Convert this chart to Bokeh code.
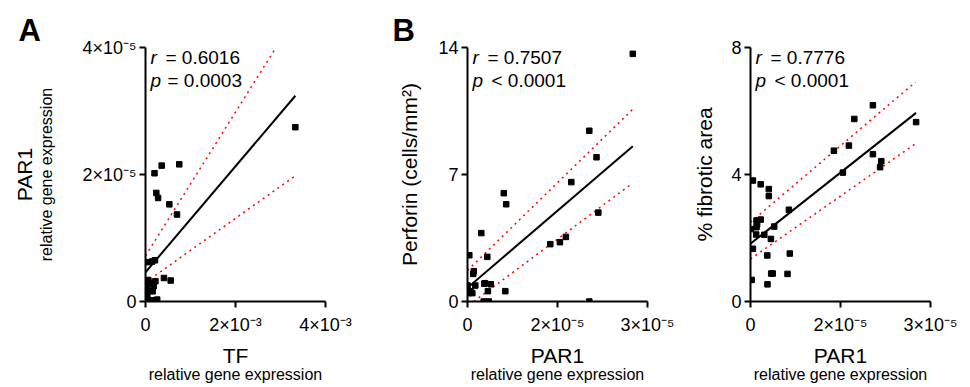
from bokeh.plotting import figure
from bokeh.layouts import row
from bokeh.models import Range1d, FixedTicker, Label, LinearAxis
from bokeh.embed import file_html
from bokeh.resources import INLINE

FONT = "Liberation Sans"

# ---------------- Panel A: TF vs PAR1 ----------------
a_tf = [3.33e-3, 0.20e-3, 0.36e-3, 0.75e-3, 0.24e-3, 0.28e-3, 0.53e-3, 0.70e-3,
        0.05e-3, 0.15e-3, 0.21e-3, 0.41e-3, 0.56e-3, 0.05e-3, 0.22e-3, 0.18e-3,
        0.16e-3, 0.03e-3, 0.03e-3, 0.04e-3, 0.02e-3, 0.10e-3, 0.22e-3, 0.08e-3,
        0.12e-3, 0.01e-3, 0.06e-3, 0.26e-3]
a_par1 = [2.745e-5, 2.02e-5, 2.14e-5, 2.16e-5, 1.71e-5, 1.63e-5, 1.53e-5, 1.37e-5,
          0.62e-5, 0.63e-5, 0.65e-5, 0.37e-5, 0.33e-5, 0.34e-5, 0.32e-5, 0.24e-5,
          0.16e-5, 0.22e-5, 0.15e-5, 0.10e-5, 0.05e-5, 0.02e-5, 0.02e-5, 0.30e-5,
          0.28e-5, 0.0, 0.02e-5, 0.03e-5]
a_fit_x = [0.0, 3.33e-3]
a_fit_y = [0.46e-5, 3.24e-5]
a_up_x = [0.0, 2.9e-3]
a_up_y = [0.72e-5, 4.0e-5]
a_lo_x = [0.0, 3.33e-3]
a_lo_y = [0.30e-5, 1.98e-5]
a_r, a_p = "= 0.6016", "= 0.0003"

# ---------------- Panel B: PAR1 vs Perforin ----------------
b_par1 = [2.755e-5, 2.03e-5, 2.15e-5, 1.73e-5, 2.18e-5, 1.64e-5, 1.54e-5, 1.38e-5,
          0.605e-5, 0.645e-5, 0.23e-5, 0.33e-5, 0.03e-5, 0.105e-5, 0.095e-5, 0.29e-5,
          0.39e-5, 0.28e-5, 0.63e-5, 0.34e-5, 0.27e-5, 0.355e-5, 2.03e-5, 0.0,
          0.13e-5, 0.05e-5, 0.02e-5, 0.08e-5]
b_perforin = [13.65, 9.41, 7.95, 6.58, 4.90, 3.56, 3.27, 3.16,
              5.97, 5.36, 3.77, 2.46, 2.55, 1.67, 1.52, 1.01,
              0.95, 0.98, 0.57, 0.57, 0.0, 0.0, 0.0, 0.88,
              0.88, 0.57, 0.46, 0.46]
b_fit_x = [0.0, 2.755e-5]
b_fit_y = [0.755, 8.56]
b_up_x = [0.0, 2.75e-5]
b_up_y = [1.71, 10.58]
b_lo_x = [0.105e-5, 2.75e-5]
b_lo_y = [0.0, 6.52]
b_r, b_p = "= 0.7507", "< 0.0001"

# ---------------- Panel C: PAR1 vs % fibrotic area ----------------
c_par1 = [2.76e-5, 2.04e-5, 1.73e-5, 1.64e-5, 1.39e-5, 2.04e-5, 2.18e-5, 2.16e-5,
          1.54e-5, 0.04e-5, 0.17e-5, 0.305e-5, 0.305e-5, 0.64e-5, 0.10e-5, 0.17e-5,
          0.11e-5, 0.10e-5, 0.005e-5, 0.395e-5, 0.095e-5, 0.23e-5, 0.34e-5, 0.04e-5,
          0.28e-5, 0.655e-5, 0.02e-5, 0.345e-5, 0.37e-5, 0.617e-5, 0.283e-5]
c_fibrotic = [5.65, 6.18, 5.75, 4.91, 4.75, 4.64, 4.42, 4.23,
              4.06, 3.81, 3.69, 3.54, 3.32, 2.89, 2.55, 2.58,
              2.43, 2.34, 2.28, 2.36, 2.11, 2.10, 1.97, 1.66,
              1.45, 1.51, 0.68, 0.88, 0.88, 0.87, 0.54]
c_fit_x = [0.0, 2.76e-5]
c_fit_y = [1.82, 5.94]
c_up_x = [0.0, 2.75e-5]
c_up_y = [2.50, 6.91]
c_lo_x = [0.0, 2.75e-5]
c_lo_y = [1.34, 4.97]
c_r, c_p = "= 0.7776", "< 0.0001"

# ticks
a_xticks = [0.0, 2e-3, 4e-3]
a_xlabels = ["0", "2×10⁻³", "4×10⁻³"]
a_yticks = [0.0, 2e-5, 4e-5]
a_ylabels = ["0", "2×10⁻⁵", "4×10⁻⁵"]
par_xticks = [0.0, 1.5e-5, 3e-5]
par_xlabels = ["0", "2×10⁻⁵", "3×10⁻⁵"]
b_yticks = [0.0, 7.0, 14.0]
b_ylabels = ["0", "7", "14"]
c_yticks = [0.0, 4.0, 8.0]
c_ylabels = ["0", "4", "8"]

H = 387
TOP = 47
FH = 254
FW = 180


def lab(p, text, sx, sy, size, style="normal", align="left"):
    p.add_layout(Label(x=sx, y=sy, x_units="screen", y_units="screen", text=text,
                       text_font=FONT, text_font_size=size, text_font_style=style,
                       text_align=align, text_baseline="alphabetic",
                       text_color="black"))


def style_label(ax, size, standoff):
    ax.axis_label_text_font = FONT
    ax.axis_label_text_font_size = size
    ax.axis_label_text_font_style = "normal"
    ax.axis_label_text_color = "black"
    ax.axis_label_standoff = standoff


def extra_axis(p, side, text, size, standoff):
    ax = LinearAxis(ticker=FixedTicker(ticks=[]), axis_label=text)
    ax.axis_line_color = None
    ax.major_tick_line_color = None
    ax.minor_tick_line_color = None
    ax.major_tick_out = 0
    ax.major_tick_in = 0
    ax.minor_tick_out = 0
    ax.minor_tick_in = 0
    ax.major_label_standoff = 0
    ax.major_label_text_font_size = "0px"
    style_label(ax, size, standoff)
    p.add_layout(ax, side)


def panel(width, left, xr, yr, xticks, xlabels, yticks, ylabels, xtitle, ytitle, ystand,
          xs, ys, fx, fy, ux, uy, lx, ly, rtxt, ptxt, letter=None):
    p = figure(width=width, height=H, x_range=Range1d(*xr), y_range=Range1d(*yr),
               output_backend="svg", toolbar_location=None,
               min_border_left=left, min_border_right=width - left - FW,
               min_border_top=TOP, min_border_bottom=H - TOP - FH)
    p.outline_line_color = None
    p.grid.visible = False
    for ax, t, l in ((p.xaxis[0], xticks, xlabels), (p.yaxis[0], yticks, ylabels)):
        ax.ticker = FixedTicker(ticks=t)
        ax.major_label_overrides = dict(zip(t, l))
        ax.minor_tick_line_color = None
        ax.major_tick_in = 0
        ax.major_tick_out = 6
        ax.axis_line_width = 2
        ax.major_tick_line_width = 2
        ax.axis_line_color = "black"
        ax.major_tick_line_color = "black"
        ax.major_label_text_font = FONT
        ax.major_label_text_font_size = "18px"
        ax.major_label_text_color = "black"
    p.xaxis.major_label_standoff = 7
    p.yaxis.major_label_standoff = 3
    p.xaxis.axis_label = xtitle
    style_label(p.xaxis[0], "21px", 6)
    p.yaxis.axis_label = ytitle[0]
    style_label(p.yaxis[0], ytitle[1], ystand)
    # second line of the x-axis title
    extra_axis(p, "below", "relative gene expression", "16px", -4)

    p.line(ux, uy, line_color="#ff0000", line_width=1.5, line_dash="2 4")
    p.line(lx, ly, line_color="#ff0000", line_width=1.5, line_dash="2 4")
    p.line(fx, fy, line_color="black", line_width=2)
    p.scatter(xs, ys, marker="square", size=5.5, fill_color="black", line_color="black")

    # statistics
    lab(p, "r", 5, 244, "19px", style="italic")
    lab(p, rtxt, 20, 244, "19px")
    lab(p, "p", 5, 221, "19px", style="italic")
    lab(p, ptxt, 22 if ptxt.startswith("=") else 24, 221, "19px")

    p.title.text = letter[0] if letter else ""
    p.title.text_font = FONT
    p.title.text_font_size = "31px"
    p.title.text_font_style = "bold"
    p.title.text_color = "black"
    p.title.align = "left"
    p.title.standoff = 0
    p.title.offset = letter[1] if letter else 0
    return p


pa = panel(360, 145, (0, 4e-3), (0, 4e-5), a_xticks, a_xlabels, a_yticks, a_ylabels,
           "TF", ("relative gene expression", "16px"), 24, a_tf, a_par1, a_fit_x, a_fit_y,
           a_up_x, a_up_y, a_lo_x, a_lo_y, a_r, a_p, letter=("A", -127))
extra_axis(pa, "left", "PAR1", "21px", 0)

pb = panel(320, 107, (0, 3e-5), (0, 14), par_xticks, par_xlabels, b_yticks, b_ylabels,
           "PAR1", ("Perforin (cells/mm²)", "21px"), 14, b_par1, b_perforin, b_fit_x, b_fit_y,
           b_up_x, b_up_y, b_lo_x, b_lo_y, b_r, b_p, letter=("B", -75))

pc = panel(290, 70, (0, 3e-5), (0, 8), par_xticks, par_xlabels, c_yticks, c_ylabels,
           "PAR1", ("% fibrotic area", "21px"), 12, c_par1, c_fibrotic, c_fit_x, c_fit_y,
           c_up_x, c_up_y, c_lo_x, c_lo_y, c_r, c_p)

layout = row(pa, pb, pc, spacing=0)
open("out.html", "w").write(file_html(layout, INLINE))
